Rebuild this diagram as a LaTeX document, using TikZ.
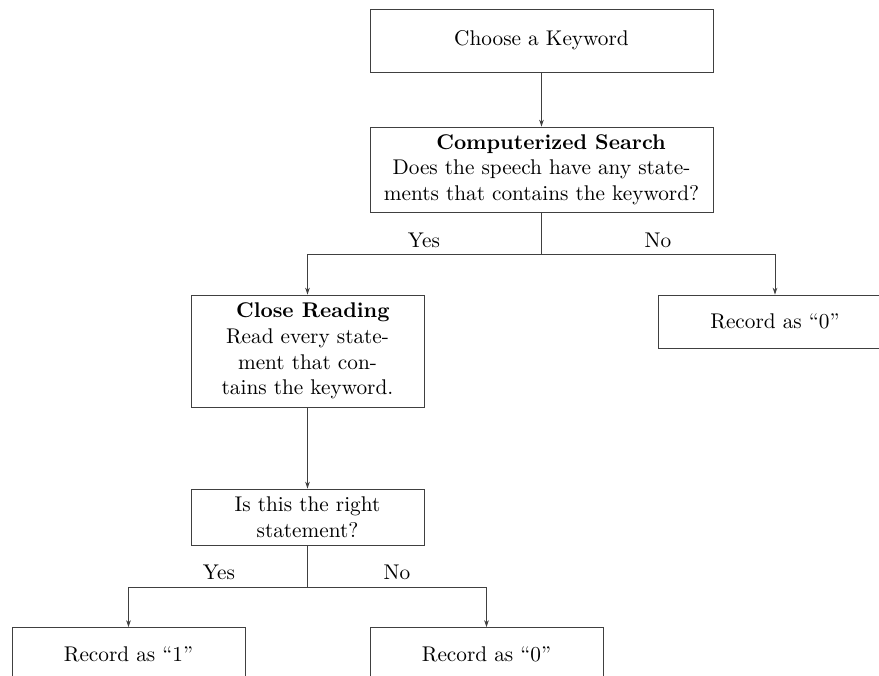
\documentclass[tikz,border=0pt]{standalone}
\usetikzlibrary{arrows.meta}
\begin{document}
\begin{tikzpicture}[x=0.47pt,y=-0.47pt,
  box/.style={draw=black!75,line width=0.45pt,inner sep=0pt,align=center,font=\normalsize},
  wide/.style={box,minimum width=161.21pt},
  narrow/.style={box,minimum width=109.51pt},
  conn/.style={draw=black!75,line width=0.45pt},
  arr/.style={conn,-{Stealth[length=3.2pt,width=2.2pt]}},
  lbl/.style={inner sep=0pt,font=\normalsize}]
\useasboundingbox (0,0) rectangle (879,675);
\clip (0,0) rectangle (879,675);
\node[wide,minimum height=29.61pt] (kw) at (541.5,40.5) {Choose a Keyword};
\node[wide,minimum height=39.95pt] (cs) at (541.5,169.5) {\hspace*{9pt}\textbf{Computerized Search}\\Does the speech have any state-\\ments that contains the keyword?};
\node[narrow,minimum height=52.64pt] (cr) at (307.5,351) {\hspace*{5pt}\textbf{Close Reading}\\Read every state-\\ment that con-\\tains the keyword.};
\node[narrow,minimum height=24.91pt] (r0a) at (775,321.5) {Record as ``0''};
\node[narrow,minimum height=26.32pt] (rs) at (307.5,517) {Is this the right\\statement?};
\node[narrow,minimum height=24.91pt] (r1) at (128.5,654) {Record as ``1''};
\node[narrow,minimum height=24.91pt] (r0b) at (486.5,654) {Record as ``0''};
\coordinate (j1) at (541.5,254);
\coordinate (j2) at (307.5,587);
\node[lbl] (y1) at (424,240) {Yes};
\node[lbl] (n1) at (658,240) {No};
\node[lbl] (y2) at (219,572) {Yes};
\node[lbl] (n2) at (397,572) {No};
\draw[arr] (kw.south) -- (cs.north);
\draw[conn] (cs.south) -- (j1);
\draw[arr] (j1) -| (cr.north);
\draw[arr] (j1) -| (r0a.north);
\draw[arr] (cr.south) -- (rs.north);
\draw[conn] (rs.south) -- (j2);
\draw[arr] (j2) -| (r1.north);
\draw[arr] (j2) -| (r0b.north);
\end{tikzpicture}
\end{document}
